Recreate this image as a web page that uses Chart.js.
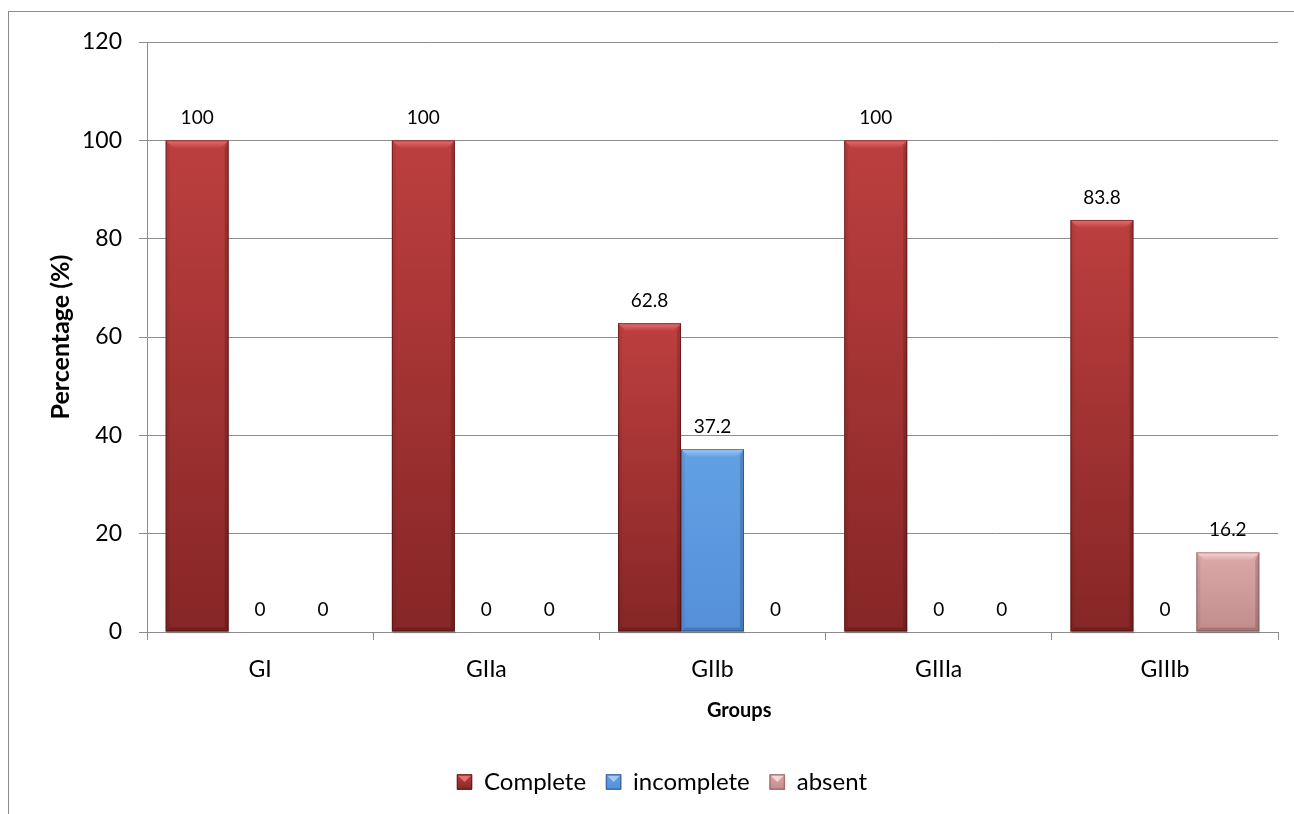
<!DOCTYPE html>
<html>
<head>
<meta charset="utf-8">
<script src="https://cdn.jsdelivr.net/npm/chart.js@4.4.1/dist/chart.umd.min.js"></script>
<style>
  html, body { margin: 0; padding: 0; background: #ffffff; }
  #wrap { width: 1294px; height: 814px; }
</style>
</head>
<body>
<div id="wrap"><canvas id="chart" width="1294" height="814"></canvas></div>
<script>
// Percentage of each outcome per group
const categories = ['GI', 'GIIa', 'GIIb', 'GIIIa', 'GIIIb'];
const completeValues = [100, 100, 62.8, 100, 83.8];
const incompleteValues = [0, 0, 37.2, 0, 0];
const absentValues = [0, 0, 0, 0, 16.2];
const seriesNames = ['Complete', 'incomplete', 'absent'];
const yAxisTitle = 'Percentage (%)';
const xAxisTitle = 'Groups';

const FONT = 'Lato, "Liberation Sans", sans-serif';
const LEGEND_FONT_SIZE = 24;
const LEGEND_BOX = 15;

// Shading used for the bevelled bars: base, top/bottom of body gradient, highlight, edge
const shades = [
  { base: '#a83232', top: '#bd3f3f', bottom: '#862626', light: '#e87070', edge: 'rgba(70,10,10,0.55)' },
  { base: '#5a97dd', top: '#62a0e4', bottom: '#5590d8', light: '#a4cbf4', edge: 'rgba(30,60,110,0.55)' },
  { base: '#d29c9c', top: '#dca8a8', bottom: '#c28c8c', light: '#f6d6d6', edge: 'rgba(110,60,60,0.5)' }
];

// Outer frame of the chart
const framePlugin = {
  id: 'frame',
  beforeDraw(chart) {
    const ctx = chart.ctx;
    ctx.save();
    ctx.strokeStyle = '#8c8c8c';
    ctx.lineWidth = 1;
    ctx.strokeRect(8.5, 11.5, 1400, 1000);
    ctx.restore();
  }
};

// Bevel / gradient look on each bar
const bevelPlugin = {
  id: 'bevel',
  afterDatasetsDraw(chart) {
    const ctx = chart.ctx;
    chart.data.datasets.forEach((ds, di) => {
      const meta = chart.getDatasetMeta(di);
      const sh = shades[di];
      meta.data.forEach(bar => {
        const { x, y, base, width } = bar.getProps(['x', 'y', 'base', 'width'], true);
        const h = base - y;
        if (h < 1) return;
        const l = x - width / 2, r = x + width / 2;
        const b = Math.min(8, h / 2);
        const s = 4;
        ctx.save();
        // soft drop shadow under the bar
        ctx.fillStyle = 'rgba(0,0,0,0.12)';
        ctx.fillRect(l + 1, base, width, 2);
        // body gradient
        const g = ctx.createLinearGradient(0, y, 0, base);
        g.addColorStop(0, sh.top);
        g.addColorStop(1, sh.bottom);
        ctx.fillStyle = g;
        ctx.fillRect(l, y, width, h);
        // top bevel highlight
        const tg = ctx.createLinearGradient(0, y, 0, y + b);
        tg.addColorStop(0, sh.light);
        tg.addColorStop(1, sh.top);
        ctx.fillStyle = tg;
        ctx.beginPath();
        ctx.moveTo(l, y); ctx.lineTo(r, y); ctx.lineTo(r - b, y + b); ctx.lineTo(l + b, y + b);
        ctx.closePath(); ctx.fill();
        // right side shade
        ctx.fillStyle = 'rgba(0,0,0,0.16)';
        ctx.beginPath();
        ctx.moveTo(r, y); ctx.lineTo(r, base); ctx.lineTo(r - s, base - s); ctx.lineTo(r - s, y + b);
        ctx.closePath(); ctx.fill();
        // left side shade
        ctx.fillStyle = 'rgba(0,0,0,0.06)';
        ctx.beginPath();
        ctx.moveTo(l, y); ctx.lineTo(l + s, y + b); ctx.lineTo(l + s, base - s); ctx.lineTo(l, base);
        ctx.closePath(); ctx.fill();
        // bottom shade
        ctx.fillStyle = 'rgba(0,0,0,0.16)';
        ctx.beginPath();
        ctx.moveTo(l, base); ctx.lineTo(r, base); ctx.lineTo(r - s, base - s); ctx.lineTo(l + s, base - s);
        ctx.closePath(); ctx.fill();
        // outline
        ctx.strokeStyle = sh.edge;
        ctx.lineWidth = 1;
        ctx.strokeRect(l + 0.5, y + 0.5, width - 1, h - 1);
        ctx.restore();
      });
    });
  }
};

// Value labels above every bar (including zero values)
const valueLabelPlugin = {
  id: 'valueLabels',
  afterDatasetsDraw(chart) {
    const ctx = chart.ctx;
    ctx.save();
    ctx.font = '19px ' + FONT;
    ctx.fillStyle = '#000000';
    ctx.textAlign = 'center';
    ctx.textBaseline = 'middle';
    chart.data.datasets.forEach((ds, di) => {
      const meta = chart.getDatasetMeta(di);
      meta.data.forEach((bar, i) => {
        const { x, y } = bar.getProps(['x', 'y'], true);
        ctx.fillText(String(ds.data[i]), x, y - 22);
      });
    });
    ctx.restore();
  }
};

// Small highlight on the legend swatches, echoing the bar bevel
const legendBevelPlugin = {
  id: 'legendBevel',
  afterDraw(chart) {
    const lg = chart.legend;
    if (!lg || !lg.legendHitBoxes) return;
    const ctx = chart.ctx;
    ctx.save();
    lg.legendHitBoxes.forEach((hb, i) => {
      const sh = shades[i];
      const x = hb.left;
      const y = hb.top + Math.max((LEGEND_FONT_SIZE - LEGEND_BOX) / 2, 0);
      const w = LEGEND_BOX, h = LEGEND_BOX;
      const g = ctx.createLinearGradient(0, y, 0, y + h);
      g.addColorStop(0, sh.top);
      g.addColorStop(1, sh.bottom);
      ctx.fillStyle = g;
      ctx.fillRect(x, y, w, h);
      ctx.fillStyle = sh.light;
      ctx.beginPath();
      ctx.moveTo(x + 1, y + 1); ctx.lineTo(x + w - 1, y + 1); ctx.lineTo(x + w / 2, y + h / 2);
      ctx.closePath(); ctx.fill();
      ctx.strokeStyle = sh.edge;
      ctx.lineWidth = 1;
      ctx.strokeRect(x + 0.5, y + 0.5, w - 1, h - 1);
    });
    ctx.restore();
  }
};

const valueSets = [completeValues, incompleteValues, absentValues];

new Chart(document.getElementById('chart'), {
  type: 'bar',
  data: {
    labels: categories,
    datasets: seriesNames.map((name, i) => ({
      label: name,
      data: valueSets[i],
      backgroundColor: shades[i].base,
      borderColor: shades[i].edge,
      borderWidth: 1,
      categoryPercentage: 0.835,
      barPercentage: 1.0
    }))
  },
  options: {
    responsive: false,
    devicePixelRatio: 1,
    animation: false,
    layout: { padding: { left: 46, top: 42, right: 16, bottom: 10 } },
    plugins: {
      tooltip: { enabled: false },
      legend: {
        position: 'bottom',
        labels: {
          font: { family: FONT, size: LEGEND_FONT_SIZE },
          color: '#000000',
          boxWidth: LEGEND_BOX,
          boxHeight: LEGEND_BOX,
          padding: 20
        }
      }
    },
    scales: {
      x: {
        grid: {
          display: true,
          drawOnChartArea: false,
          drawTicks: true,
          tickLength: 8,
          color: '#8c8c8c'
        },
        border: { color: '#8c8c8c' },
        ticks: {
          font: { family: FONT, size: 23 },
          color: '#000000',
          padding: 16
        },
        title: {
          display: true,
          text: '\u00a0'.repeat(11) + xAxisTitle,
          font: { family: FONT, size: 20, weight: 'bold' },
          color: '#000000',
          padding: { top: 0, bottom: 27 }
        },
        afterFit(scale) { scale.height = 118; }
      },
      y: {
        min: 0,
        max: 120,
        ticks: {
          stepSize: 20,
          font: { family: FONT, size: 23 },
          color: '#000000',
          padding: 17
        },
        grid: {
          color: '#8c8c8c',
          tickLength: 8,
          drawTicks: true
        },
        border: { color: '#8c8c8c' },
        title: {
          display: true,
          text: yAxisTitle,
          font: { family: FONT, size: 25, weight: 'bold' },
          color: '#000000',
          padding: { top: 0, bottom: 0 }
        },
        afterFit(scale) { scale.width = 101; }
      }
    }
  },
  plugins: [framePlugin, bevelPlugin, valueLabelPlugin, legendBevelPlugin]
});
</script>
</body>
</html>
